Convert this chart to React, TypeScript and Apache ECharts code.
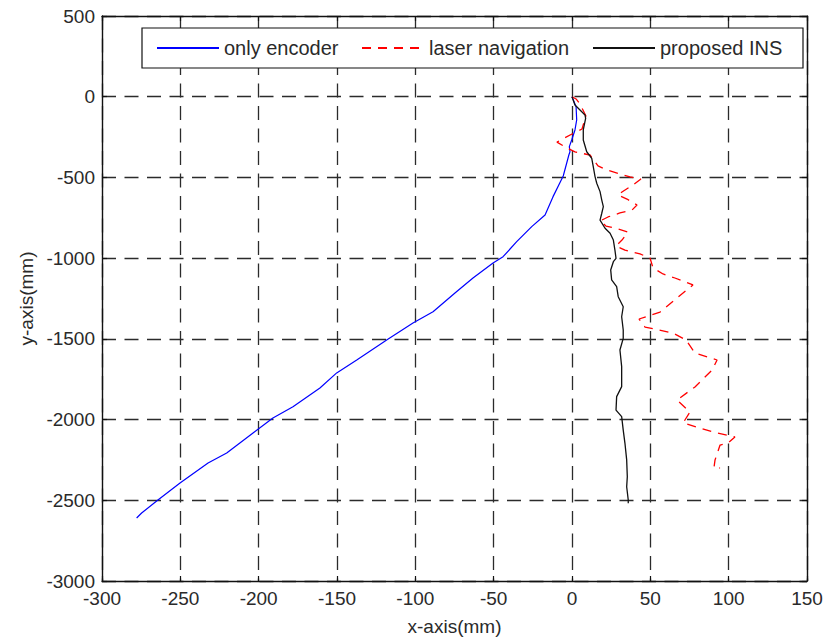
import React, { useEffect, useRef } from "react";
import * as echarts from "echarts";

const xTicks = { min: -300, max: 150, interval: 50 };
const yTicks = { min: -3000, max: 500, interval: 500 };

const seriesNames = ["only encoder", "laser navigation", "proposed INS"];

const encoderX = [0, 2.6, 3.0, 1.9, -0.2, -1.7, -1.3, -2, -5.6, -12.1, -17.2, -25.7, -35.3, -44, -50.4, -63.2, -74.7, -88.7, -101.5, -118.3, -137.4, -150.2, -160.9, -178.1, -190.9, -203.6, -220.4, -232.3, -250.2, -264.3, -274.7, -277.9];
const encoderY = [0, -62, -144, -206, -268, -309, -341, -361, -491, -619, -733, -805, -898, -991, -1030, -1123, -1216, -1332, -1402, -1507, -1631, -1711, -1804, -1920, -1990, -2083, -2207, -2269, -2393, -2498, -2579, -2610];

const laserX = [0, 2.6, 5.1, 8.9, 6.4, 0, -9.6, -4.5, 1.9, 11.5, 16.6, 22.3, 30.6, 37, 44, 38.9, 31.9, 29.4, 35.1, 41.5, 38.3, 30.6, 23, 17.9, 21.7, 29.4, 35.7, 31.9, 28.1, 33.8, 43.4, 49.8, 51.7, 58.1, 65.7, 77.2, 67, 56.2, 42.8, 46.6, 64.5, 72.8, 78.5, 92.6, 89.4, 78.5, 67, 75.3, 70.9, 90, 104, 99.6, 94.5, 91.3, 90.6, 94.5];
const laserY = [0, -14, -45, -119, -200, -231, -281, -311, -342, -361, -429, -454, -479, -497, -510, -547, -590, -609, -634, -671, -702, -720, -745, -770, -801, -819, -838, -888, -925, -950, -974, -999, -1061, -1098, -1123, -1166, -1247, -1334, -1377, -1427, -1464, -1507, -1588, -1631, -1693, -1798, -1879, -1953, -2021, -2077, -2108, -2145, -2158, -2250, -2300, -2300];

const insX = [0, 1.9, 5.1, 8.3, 8.7, 7.2, 7.2, 9.4, 12.6, 13.6, 14.7, 15.8, 17.9, 19.0, 20.0, 19.0, 17.9, 21.1, 24.3, 26.4, 27.4, 28.1, 26.4, 24.7, 25.3, 28.5, 29.5, 32.7, 31.7, 32.7, 32.7, 30.6, 31.7, 31.7, 28.5, 28.1, 31.7, 32.7, 33.8, 34.9, 35.3, 34.9, 35.9, 35.9];
const insY = [0, -51, -82, -113, -134, -206, -268, -341, -382, -434, -495, -536, -588, -640, -681, -722, -764, -815, -846, -888, -950, -1001, -1022, -1073, -1135, -1177, -1239, -1301, -1363, -1445, -1497, -1569, -1672, -1796, -1858, -1941, -1982, -2065, -2147, -2250, -2354, -2416, -2498, -2519];

const zip = (xs: number[], ys: number[]) => xs.map((x, i) => [x, ys[i]]);

const FONT = "'Liberation Sans', Arial, Helvetica, sans-serif";
const TEXT = "#2a2a2a";

export default function App() {
  const ref = useRef<HTMLDivElement>(null);
  useEffect(() => {
    document.body.style.margin = "0";
    const chart = echarts.init(ref.current!, null, { renderer: "svg" });
    const gridLine = { show: true, lineStyle: { color: "#2b2b2b", width: 1.3, type: [14, 8.5] as any } };
    const axisLine = { show: true, onZero: false, lineStyle: { color: "#111", width: 1.4 } };
    const axisTick = { show: true, inside: true, length: 5, lineStyle: { color: "#111", width: 1.2 } };
    const fmt = (v: number) => String(v);
    const option: any = {
      animation: false,
      backgroundColor: "#fff",
      grid: { left: 102, right: 21, top: 16, bottom: 60, containLabel: false },
      legend: {
        left: 142,
        top: 28,
        orient: "horizontal",
        itemWidth: 62,
        itemHeight: 14,
        itemGap: 13,
        padding: [10, 11, 10, 14],
        borderColor: "#111",
        borderWidth: 1.2,
        backgroundColor: "#fff",
        itemStyle: { opacity: 0 },
        textStyle: { fontFamily: FONT, fontSize: 20, color: TEXT, lineHeight: 20 },
        data: [
          { name: seriesNames[0], textStyle: { width: 124 } },
          { name: seriesNames[1], textStyle: { width: 150 } },
          { name: seriesNames[2], textStyle: { width: 132 } },
        ],
      },
      xAxis: [
        {
          type: "value",
          position: "bottom",
          min: xTicks.min,
          max: xTicks.max,
          interval: xTicks.interval,
          name: "x-axis(mm)",
          nameLocation: "middle",
          nameGap: 36,
          nameTextStyle: { fontFamily: FONT, fontSize: 19, color: TEXT },
          axisLine,
          axisTick,
          axisLabel: { fontFamily: FONT, fontSize: 19, color: TEXT, margin: 8, formatter: fmt },
          splitLine: gridLine,
        },
        {
          type: "value",
          position: "top",
          min: xTicks.min,
          max: xTicks.max,
          interval: xTicks.interval,
          axisLine,
          axisTick,
          axisLabel: { show: false },
          splitLine: { show: false },
        },
      ],
      yAxis: [
        {
          type: "value",
          position: "left",
          min: yTicks.min,
          max: yTicks.max,
          interval: yTicks.interval,
          name: "y-axis(mm)",
          nameLocation: "middle",
          nameGap: 66,
          nameTextStyle: { fontFamily: FONT, fontSize: 19, color: TEXT },
          axisLine,
          axisTick,
          axisLabel: { fontFamily: FONT, fontSize: 19, color: TEXT, margin: 7, formatter: fmt },
          splitLine: gridLine,
        },
        {
          type: "value",
          position: "right",
          min: yTicks.min,
          max: yTicks.max,
          interval: yTicks.interval,
          axisLine,
          axisTick,
          axisLabel: { show: false },
          splitLine: { show: false },
        },
      ],
      series: [
        {
          name: seriesNames[0],
          type: "line",
          xAxisIndex: 0,
          yAxisIndex: 0,
          data: zip(encoderX, encoderY),
          symbol: "none",
          lineStyle: { color: "#0000ff", width: 1.2 },
          itemStyle: { color: "#0000ff" },
        },
        {
          name: seriesNames[1],
          type: "line",
          xAxisIndex: 0,
          yAxisIndex: 0,
          data: zip(laserX, laserY),
          symbol: "none",
          lineStyle: { color: "#ff0000", width: 1.3, type: [9, 7] },
          itemStyle: { color: "#ff0000" },
        },
        {
          name: seriesNames[2],
          type: "line",
          xAxisIndex: 0,
          yAxisIndex: 0,
          data: zip(insX, insY),
          symbol: "none",
          lineStyle: { color: "#111", width: 1.3 },
          itemStyle: { color: "#111" },
        },
      ],
    };
    chart.setOption(option);
    return () => chart.dispose();
  }, []);
  return <div ref={ref} style={{ width: 828, height: 641 }} />;
}
